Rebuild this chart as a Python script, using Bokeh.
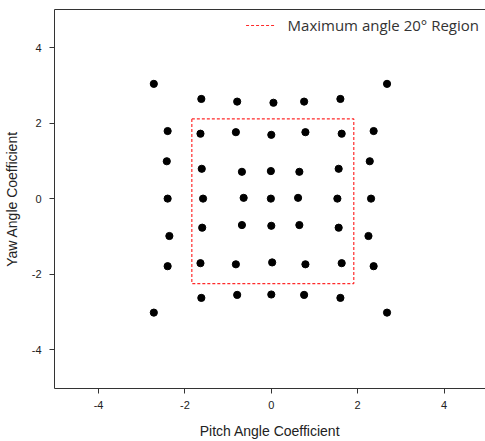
from bokeh.plotting import figure
from bokeh.models import Legend, LegendItem, LinearAxis, FixedTicker, Range1d, PrintfTickFormatter
from bokeh.embed import file_html
from bokeh.resources import INLINE

# measured points (pitch, yaw)
pitch = [-2.72, 2.68,
         -1.62, -0.79, 0.05, 0.76, 1.60,
         -2.40, -1.64, -0.82, 0.00, 0.79, 1.63, 2.37,
         -2.42, -1.61, -0.68, -0.01, 0.65, 1.56, 2.28,
         -2.40, -1.58, -0.64, -0.01, 0.62, 1.53, 2.31,
         -2.36, -1.60, -0.68, 0.00, 0.65, 1.56, 2.25,
         -2.40, -1.64, -0.82, 0.02, 0.79, 1.63, 2.37,
         -1.62, -0.79, 0.00, 0.76, 1.60,
         -2.72, 2.68]
yaw = [3.04, 3.04,
       2.64, 2.57, 2.54, 2.57, 2.64,
       1.79, 1.72, 1.76, 1.69, 1.76, 1.72, 1.79,
       0.99, 0.79, 0.71, 0.73, 0.71, 0.79, 0.99,
       0.00, 0.00, 0.02, 0.00, 0.02, 0.00, 0.00,
       -0.99, -0.77, -0.70, -0.72, -0.70, -0.77, -0.99,
       -1.79, -1.71, -1.74, -1.69, -1.74, -1.71, -1.79,
       -2.63, -2.55, -2.54, -2.55, -2.63,
       -3.02, -3.02]

region_x = [-1.84, 1.91, 1.91, -1.84, -1.84]
region_y = [2.11, 2.11, -2.25, -2.25, 2.11]
region_label = "Maximum angle 20\u00b0 Region"
ticks = [-4, -2, 0, 2, 4]

p = figure(width=485, height=441, output_backend="svg", toolbar_location=None,
           x_range=Range1d(-5.02, 4.96), y_range=Range1d(-5.03, 5.01),
           min_border_left=0, min_border_right=0, min_border_top=0, min_border_bottom=0)
p.outline_line_color = None
p.xgrid.visible = False
p.ygrid.visible = False
p.background_fill_color = "white"

p.scatter(pitch, yaw, size=7.2, color="black")
r = p.line(region_x, region_y, line_color="#ff2a2a", line_dash="3 2", line_width=1.2)

for ax in (p.xaxis[0], p.yaxis[0]):
    ax.ticker = FixedTicker(ticks=ticks)
    ax.formatter = PrintfTickFormatter(format="%d")
    ax.minor_tick_line_color = None
    ax.major_tick_in = 0
    ax.major_tick_out = 5
    ax.axis_line_color = "#333333"
    ax.major_tick_line_color = "#333333"
    ax.major_label_text_font = "Liberation Sans"
    ax.major_label_text_font_size = "11px"
    ax.major_label_text_color = "#222222"
    ax.axis_label_text_font = "Liberation Sans"
    ax.axis_label_text_font_size = "14px"
    ax.axis_label_text_font_style = "normal"
    ax.axis_label_text_color = "#222222"

p.xaxis.axis_label = "Pitch Angle Coefficient"
p.yaxis.axis_label = "Yaw Angle Coefficient"
p.xaxis.major_label_standoff = 7
p.xaxis.axis_label_standoff = 11
p.yaxis.major_label_standoff = 8
p.yaxis.axis_label_standoff = 9
p.yaxis.major_label_orientation = "horizontal"

top = LinearAxis(ticker=FixedTicker(ticks=[]), axis_line_color="#333333",
                 major_label_text_font_size="0px", major_tick_out=0, major_tick_in=0,
                 minor_tick_line_color=None)
p.add_layout(top, "above")
p.min_border_top = 9

legend = Legend(items=[LegendItem(label=region_label, renderers=[r])],
                location="top_right", border_line_color=None, background_fill_alpha=0,
                label_text_font="Open Sans", label_text_font_size="15px",
                label_text_color="#333333", glyph_width=30, label_standoff=12,
                margin=6, padding=5)
p.add_layout(legend, "center")

open("out.html", "w").write(file_html(p, INLINE))
